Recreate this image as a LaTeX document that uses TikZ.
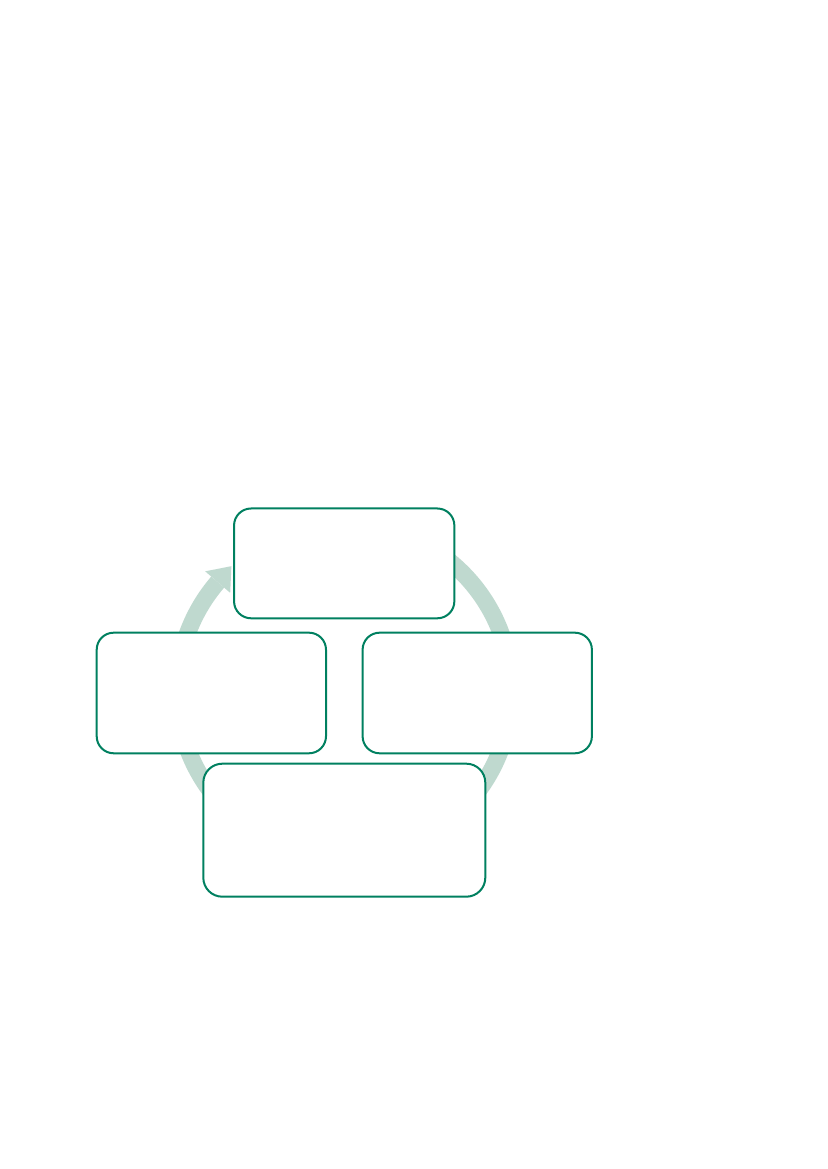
\documentclass[tikz,border=0pt]{standalone}
\usetikzlibrary{calc}
\definecolor{boxgreen}{RGB}{0,128,96}
\definecolor{bandgreen}{RGB}{191,217,207}
\begin{document}
\begin{tikzpicture}[x=1pt,y=1pt,
  stagebox/.style={draw=boxgreen, line width=2pt, fill=white, rounded corners=17pt, inner sep=0pt},
  band/.style={draw=bandgreen, line width=17pt}]
\useasboundingbox[fill=white] (0,0) rectangle (827,1169);
\coordinate (C) at (344.3,478);
% cycle band
\draw[band] ($(C)+(125:167)$) arc[start angle=125, end angle=-220.7, radius=167];
\coordinate (AB) at ($(C)+(139.3:167)$);
\coordinate (A1) at ($(AB)+(139.3:16.5)$);
\coordinate (A2) at ($(AB)+(139.3:-16.5)$);
\coordinate (AT) at ($(AB)+(49.3:21)$);
\fill[bandgreen] (A1) -- (AT) -- (A2) -- cycle;
% boxes
\node[stagebox, minimum width=220.3pt, minimum height=109.8pt] (top) at (344.2,605.6) {};
\node[stagebox, minimum width=229.3pt, minimum height=120.6pt] (left) at (211.35,476) {};
\node[stagebox, minimum width=229.3pt, minimum height=120.6pt] (right) at (477.25,476) {};
\node[stagebox, minimum width=282pt, minimum height=133pt, rounded corners=19pt] (bottom) at (344.3,338.8) {};
\end{tikzpicture}
\end{document}
